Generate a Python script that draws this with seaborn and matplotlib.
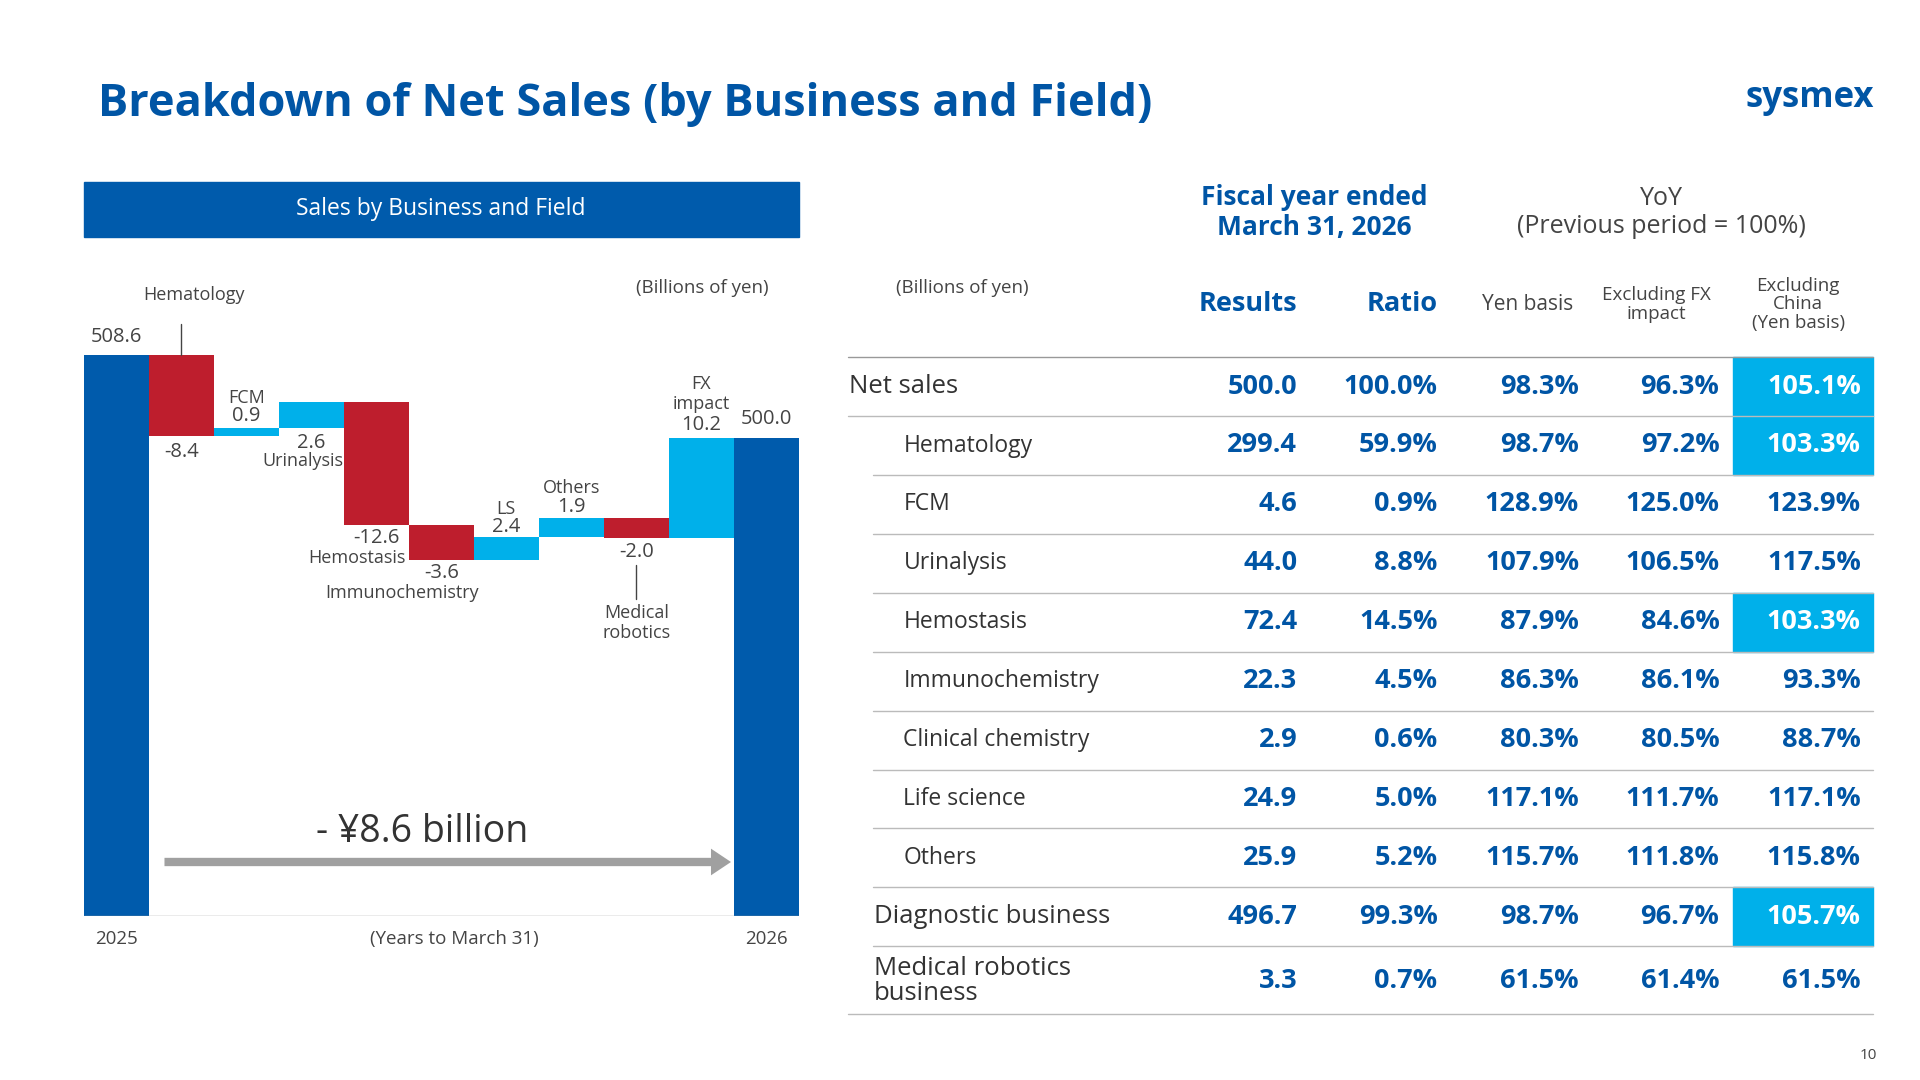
import matplotlib
matplotlib.use("Agg")
import matplotlib.pyplot as plt
import seaborn as sns
import numpy as np
import pandas as pd
from matplotlib.patches import Rectangle

sns.set_theme(style="white")
plt.rcParams['font.family'] = ['Open Sans', 'DejaVu Sans']

# ---- data ----
wf_labels = ["2025", "Hematology", "FCM", "Urinalysis", "Hemostasis", "Immunochemistry",
             "LS", "Others", "Medical\nrobotics", "FX\nimpact", "2026"]
wf_values = [508.6, -8.4, 0.9, 2.6, -12.6, -3.6, 2.4, 1.9, -2.0, 10.2, 500.0]

rows = ["Net sales", "Hematology", "FCM", "Urinalysis", "Hemostasis", "Immunochemistry",
        "Clinical chemistry", "Life science", "Others", "Diagnostic business",
        "Medical robotics\nbusiness"]
results = ["500.0", "299.4", "4.6", "44.0", "72.4", "22.3", "2.9", "24.9", "25.9", "496.7", "3.3"]
ratio = ["100.0%", "59.9%", "0.9%", "8.8%", "14.5%", "4.5%", "0.6%", "5.0%", "5.2%", "99.3%", "0.7%"]
yen_basis = ["98.3%", "98.7%", "128.9%", "107.9%", "87.9%", "86.3%", "80.3%", "117.1%", "115.7%", "98.7%", "61.5%"]
excl_fx = ["96.3%", "97.2%", "125.0%", "106.5%", "84.6%", "86.1%", "80.5%", "111.7%", "111.8%", "96.7%", "61.4%"]
excl_china = ["105.1%", "103.3%", "123.9%", "117.5%", "103.3%", "93.3%", "88.7%", "117.1%", "115.8%", "105.7%", "61.5%"]
highlight = [True, True, False, False, True, False, False, False, False, True, False]

DB = "#005BAC"; RED = "#BE1E2D"; CY = "#00B0EA"; TB = "#0055A5"; GR = "#444444"

fig = plt.figure(figsize=(19.2, 10.8), dpi=100)
X = lambda x: x / 1560
Y = lambda y: 1 - y / 880

def T(x, y, s, **kw):
    fig.text(X(x), Y(y), s, **kw)

T(80, 85, "Breakdown of Net Sales (by Business and Field)", fontsize=32.5, fontweight="bold",
  color=TB, va="center", ha="left")
T(1523, 80, "sysmex", fontsize=25, fontweight="bold", color=TB, ha="right", va="center")

fig.patches.append(Rectangle((X(68), Y(193)), X(649) - X(68), Y(148) - Y(193),
                             transform=fig.transFigure, color=DB))
T(358, 170, "Sales by Business and Field", color="white", fontsize=16.5, ha="center", va="center")
T(571, 235, "(Billions of yen)", fontsize=13.5, color=GR, ha="center", va="center")

# ---- waterfall ----
ax = fig.add_axes([X(68), Y(746), X(649) - X(68), Y(289) - Y(746)])
bottoms, heights, colors = [], [], []
cum = 0
for i, v in enumerate(wf_values):
    if i == 0 or i == len(wf_values) - 1:
        bottoms.append(0); heights.append(v); colors.append(DB); cum = v
    else:
        new = cum + v
        bottoms.append(min(cum, new)); heights.append(abs(v))
        colors.append(CY if v > 0 else RED); cum = new
df = pd.DataFrame({"x": range(len(wf_values)), "h": heights, "b": bottoms})
ax.bar(df["x"], df["h"], bottom=df["b"], width=1.0, color=colors, linewidth=0)
ax.set_xlim(-0.5, len(wf_values) - 0.5)
ax.set_ylim(451, 508.6)
ax.axis("off")
ax.axhline(451, color="#999999", lw=1)

lab_fs = 13
vfs = 14.5
n = len(wf_values)
def tx(i, yv, s, **kw):
    ax.text(i, yv, s, fontsize=kw.pop("fs", lab_fs), color=GR, ha="center", clip_on=False, **kw)
tx(0, 509.4, "508.6", va="bottom", fs=vfs)
tx(n - 1, 501.0, "500.0", va="bottom", fs=vfs)
tx(1, 499.6, "-8.4", va="top", fs=vfs)
ax.plot([1, 1], [508.6, 511.8], color=GR, lw=1, clip_on=False)
ax.text(1.2, 513.8, "Hematology", fontsize=lab_fs, color=GR, ha="center", va="bottom", clip_on=False)
tx(2, 503.2, "FCM", va="bottom"); tx(2, 501.3, "0.9", va="bottom", fs=vfs)
tx(3, 500.6, "2.6", va="top", fs=vfs); tx(2.87, 498.6, "Urinalysis", va="top")
tx(4, 490.8, "-12.6", va="top", fs=vfs); tx(3.7, 488.6, "Hemostasis", va="top")
tx(5, 487.2, "-3.6", va="top", fs=vfs); tx(4.4, 485.0, "Immunochemistry", va="top")
tx(6, 491.8, "LS", va="bottom"); tx(6, 489.9, "2.4", va="bottom", fs=vfs)
tx(7, 494.0, "Others", va="bottom"); tx(7, 491.9, "1.9", va="bottom", fs=vfs)
tx(8, 489.4, "-2.0", va="top", fs=vfs)
ax.plot([8, 8], [487.0, 483.5], color=GR, lw=1)
tx(8, 483.0, "Medical\nrobotics", va="top", linespacing=1.15)
tx(9, 502.6, "FX\nimpact", va="bottom", linespacing=1.15)
tx(9, 500.4, "10.2", va="bottom", fs=vfs)
ax.text(0, 449.5, "2025", fontsize=13.5, color=GR, ha="center", va="top", clip_on=False)
ax.text(n - 1, 449.5, "2026", fontsize=13.5, color=GR, ha="center", va="top", clip_on=False)
ax.text(5.2, 449.5, "(Years to March 31)", fontsize=13.5, color=GR, ha="center", va="top", clip_on=False)
ax.annotate("", xy=(9.5, 456.5), xytext=(0.7, 456.5),
            arrowprops=dict(arrowstyle="simple,head_width=1.6,head_length=1.2,tail_width=0.5",
                            color="#A0A0A0", lw=0))
ax.text(4.7, 457.6, "- ¥8.6 billion", fontsize=27, color="#333333", ha="center", va="bottom")

# ---- table ----
T(1068, 173, "Fiscal year ended\nMarch 31, 2026", fontsize=19, fontweight="bold", color=TB,
  ha="center", va="center", linespacing=1.15)
T(1350, 173, "YoY\n(Previous period = 100%)", fontsize=18, color=GR, ha="center", va="center",
  linespacing=1.15)
T(782, 235, "(Billions of yen)", fontsize=13.5, color=GR, ha="center", va="center")
T(1054, 248, "Results", fontsize=19.5, fontweight="bold", color=TB, ha="right", va="center")
T(1168, 248, "Ratio", fontsize=19.5, fontweight="bold", color=TB, ha="right", va="center")
T(1241, 248, "Yen basis", fontsize=15, color=GR, ha="center", va="center")
T(1346, 248, "Excluding FX\nimpact", fontsize=13.5, color=GR, ha="center", va="center", linespacing=1.05)
T(1461, 248, "Excluding\nChina\n(Yen basis)", fontsize=13.5, color=GR, ha="center", va="center", linespacing=1.05)

def hline(y, x0, x1, c="#BBBBBB", lw=1):
    fig.add_artist(plt.Line2D([X(x0), X(x1)], [Y(y), Y(y)], transform=fig.transFigure, color=c, lw=lw))

hline(291, 689, 1522, c="#999999")
ycent = [315, 363, 411, 459, 507, 555, 603, 651, 699, 747, 799]
bounds = [291, 339, 387, 435, 483, 531, 579, 627, 675, 723, 771, 826]
for i, yc in enumerate(ycent):
    top, bot = bounds[i], bounds[i + 1]
    if highlight[i]:
        fig.patches.append(Rectangle((X(1408), Y(bot)), X(1522) - X(1408), Y(top) - Y(bot),
                                     transform=fig.transFigure, color=CY, zorder=0))
    if i == 0:
        lx, fs = 690, 18.5
    elif i >= 9:
        lx, fs = 710, 18.5
    else:
        lx, fs = 734, 16.5
    T(lx, yc, rows[i], fontsize=fs, color="#333333", ha="left", va="center", linespacing=1.0)
    for xr, col in zip([1054, 1168, 1283, 1397, 1512],
                       [results, ratio, yen_basis, excl_fx, excl_china]):
        c = "white" if (xr == 1512 and highlight[i]) else TB
        T(xr, yc, col[i], fontsize=19.5, fontweight="bold", color=c, ha="right", va="center")
    x0 = 689 if i in (0, 10) else 709
    hline(bot, x0, 1522)

T(1525, 860, "10", fontsize=11, color=GR, ha="right", va="center")

fig.savefig("out.png", dpi=100)
